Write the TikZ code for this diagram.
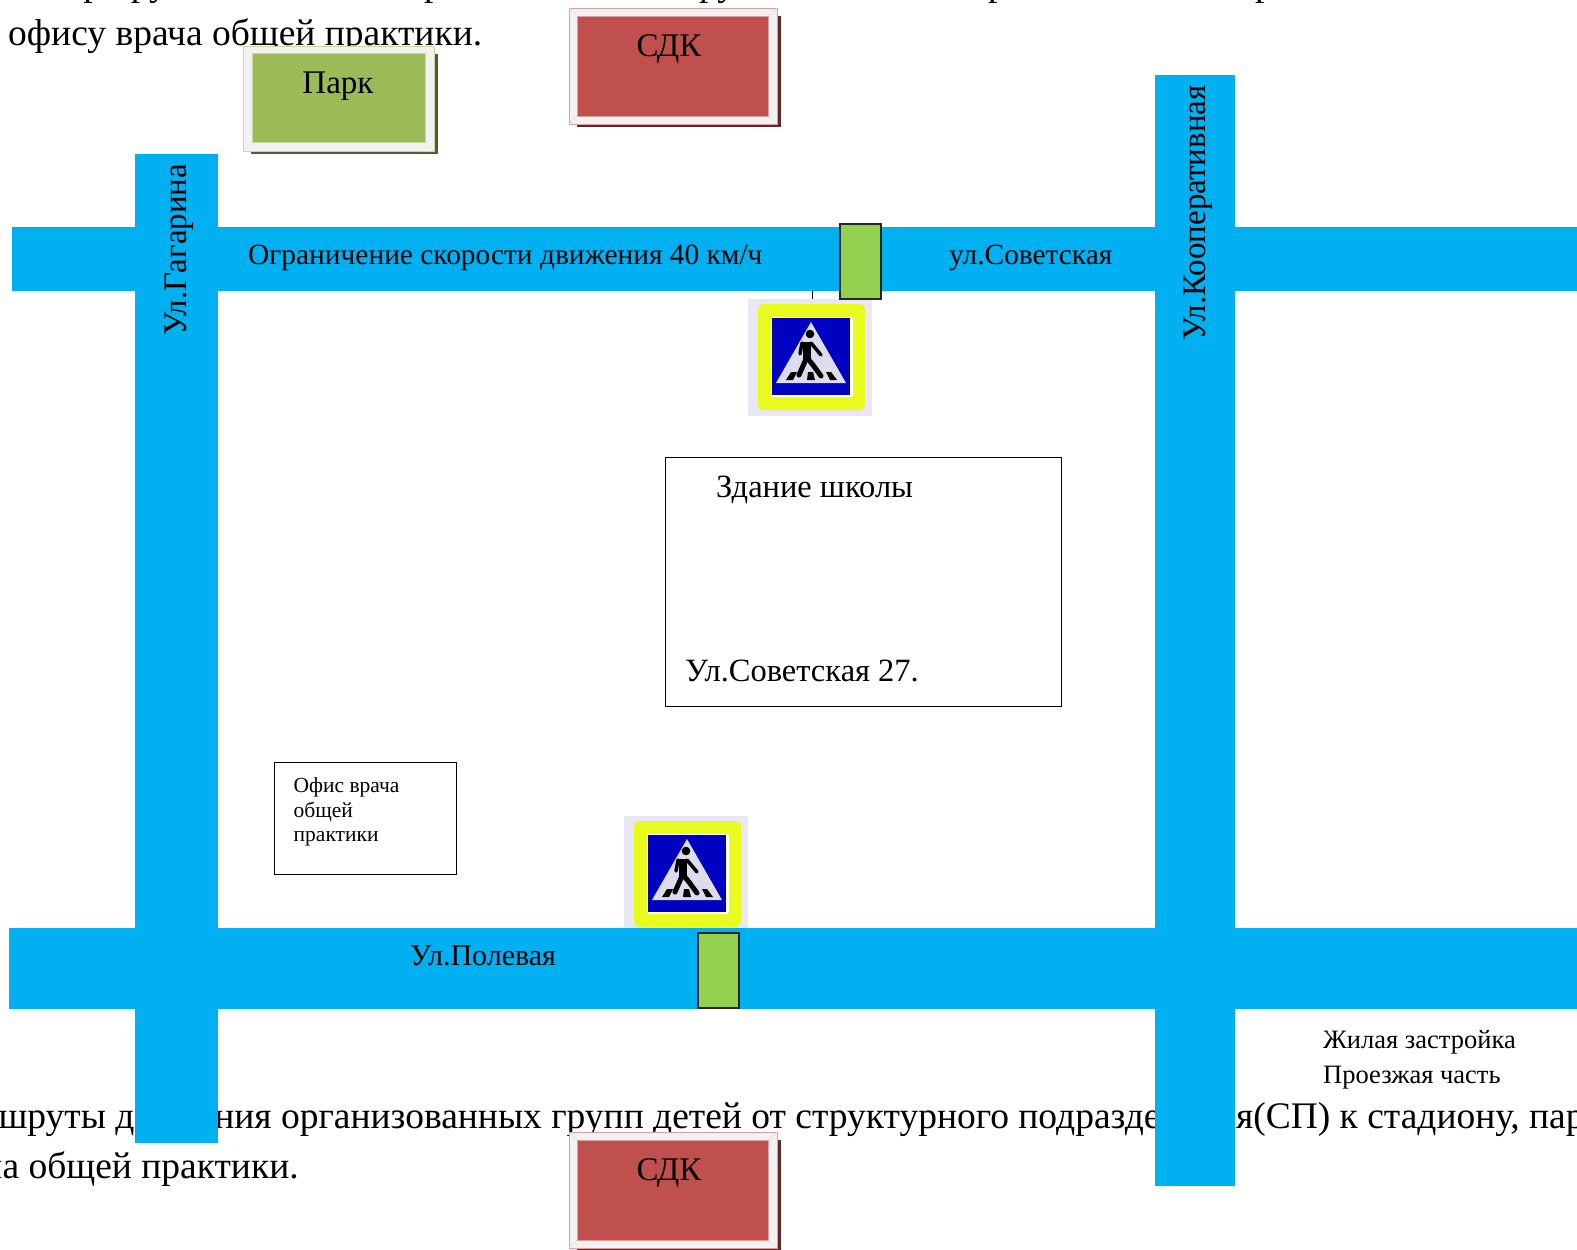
\documentclass[tikz,border=0pt]{standalone}
\usepackage{fontspec}
\setmainfont{Liberation Serif}
\definecolor{road}{HTML}{00B0F0}
\definecolor{cross}{HTML}{92D050}
\definecolor{parkc}{HTML}{9BBB59}
\definecolor{sdkc}{HTML}{C0504D}
\definecolor{bev}{HTML}{F2F2F2}
\definecolor{signbg}{HTML}{E8E8F4}
\definecolor{signy}{HTML}{E8FA1E}
\definecolor{signb}{HTML}{0000C0}
\definecolor{signt}{HTML}{DCDCEC}
\tikzset{
  roadfill/.style={fill=road,draw=none},
  crossing/.style={fill=cross,draw=black!85,line width=1.3pt},
  whitebox/.style={fill=white,draw=black,line width=0.8pt},
  body/.style={anchor=base west,inner sep=0pt,font=\fontsize{37.5}{37.5}\selectfont},
  label/.style={anchor=base west,inner sep=0pt,font=\fontsize{32.5}{32.5}\selectfont},
  streetv/.style={anchor=base west,inner sep=0pt,rotate=90,font=\fontsize{33}{33}\selectfont},
  roadname/.style={anchor=base west,inner sep=0pt,font=\fontsize{29.4}{29.4}\selectfont},
  small/.style={anchor=base west,inner sep=0pt,font=\fontsize{21.5}{21.5}\selectfont},
  note/.style={anchor=base west,inner sep=0pt,font=\fontsize{26.5}{26.5}\selectfont},
  ctr/.style={anchor=base,inner sep=0pt,font=\fontsize{33}{33}\selectfont},
}
\newcommand{\bevelbox}[9]{% x0 y0 x1 y1 ix0 iy0 ix1 iy1 ; #9 = fill colour
  \fill[#9!50!black] (#1+8,#2+8) rectangle (#3+4,#4+3);
  \fill[bev,draw=#9!55!white,line width=0.8pt] (#1,#2) rectangle (#3,#4);
  \draw[#9!25!white,line width=0.4pt] (#1,#2)--(#5,#6) (#3,#2)--(#7,#6) (#1,#4)--(#5,#8) (#3,#4)--(#7,#8);
  \fill[#9,draw=#9!55!white,line width=0.8pt] (#5,#6) rectangle (#7,#8);
}
\newcommand{\crosssign}[2]{%
  \begin{scope}[shift={(#1,#2)}]
    \fill[signbg] (0,0) rectangle (124,117);
    \fill[signy,rounded corners=6pt] (10,5) rectangle (117,111);
    \fill[white,rounded corners=2pt] (23,18) rectangle (105,98);
    \fill[signb] (24,19) rectangle (102,96);
    \fill[signt] (63,23) -- (98,84) -- (28,84) -- cycle;
    \fill[black] (62,35) circle (4.3);
    \draw[black,line width=8pt] (59,43) -- (59,60);
    \draw[black,line width=3.5pt,line cap=round] (54,44) -- (52,55);
    \draw[black,line width=3.5pt,line cap=round] (63,44) -- (73,56);
    \draw[black,line width=5pt,line cap=round] (58,60) -- (51,76);
    \draw[black,line width=5pt,line cap=round,line join=round] (60,60) -- (65,66) -- (73,77);
    \fill[black] (38,81) -- (45,81) -- (49,73) -- (43,73) -- cycle;
    \fill[black] (60,73) -- (65,73) -- (67,81) -- (59,81) -- cycle;
    \fill[black] (78,73) -- (83,73) -- (89,81) -- (82,81) -- cycle;
  \end{scope}
}
\begin{document}
\begin{tikzpicture}[x=1pt,y=-1pt]
\useasboundingbox (0,0) rectangle (1577,1250);
\clip (0,0) rectangle (1577,1250);
% page text behind the shapes: only the descenders of the top line are on the page
\node[body] (t0a) at (43,-5) {маршруты};
\node[body] (t0b) at (424,-5) {р};
\node[body] (t0c) at (699,-5) {ру};
\node[body] (t0d) at (988,-5) {р};
\node[body] (t0e) at (1255,-5) {р};
\node[body] (t1) at (8,45) {офису врача общей практики.};
\node[body] (t2) at (-70.4,1128.5) {Маршруты движения организованных групп детей от структурного подразделения(СП) к стадиону, парку};
\node[body] (t3) at (-175.5,1178) {офису врача общей практики.};
% small connector and signs
\coordinate (lineA) at (812,291);
\coordinate (lineB) at (812,299);
\draw[black,line width=0.8pt] (lineA) -- (lineB);
\crosssign{748}{299}
\crosssign{624}{816}
% roads
\fill[roadfill] (12,227) rectangle (1577,291);
\fill[roadfill] (9,928) rectangle (1577,1009);
\fill[roadfill] (135,154) rectangle (218,1143);
\fill[roadfill] (1155,75) rectangle (1235,1186);
% boxes
\bevelbox{243}{46}{434}{151}{252}{53}{425}{142}{parkc}
\bevelbox{569}{8}{777}{124}{577}{16}{768}{116}{sdkc}
\bevelbox{569}{1132}{777}{1248}{577}{1140}{768}{1240}{sdkc}
\node[ctr] (park) at (338,93) {Парк};
\node[ctr] (sdk1) at (669,56) {СДК};
\node[ctr] (sdk2) at (669,1180) {СДК};
\draw[crossing] (840,224) rectangle (881,299);
\draw[crossing] (698,933) rectangle (739,1008);
% buildings
\draw[whitebox] (665,457) rectangle (1061,706);
\draw[whitebox] (274,762) rectangle (456,874);
\node[label] (school) at (716,497) {Здание школы};
\node[label] (addr) at (685,681) {Ул.Советская 27.};
\node[small] (o1) at (293.5,792) {Офис врача};
\node[small] (o2) at (293.5,817) {общей};
\node[small] (o3) at (293.5,841) {практики};
\node[note] (n1) at (1323,1048) {Жилая застройка};
\node[note] (n2) at (1323,1083) {Проезжая часть};
% road names
\node[roadname] (r1) at (248,264) {Ограничение скорости движения 40 км/ч};
\node[roadname] (r2) at (949,264) {ул.Советская};
\node[anchor=base west,inner sep=0pt,font=\fontsize{30}{30}\selectfont] (r3) at (410,965) {Ул.Полевая};
\node[streetv] (r4) at (186,336) {Ул.Гагарина};
\node[streetv] (r5) at (1205,341) {Ул.Кооперативная};
\end{tikzpicture}
\end{document}
